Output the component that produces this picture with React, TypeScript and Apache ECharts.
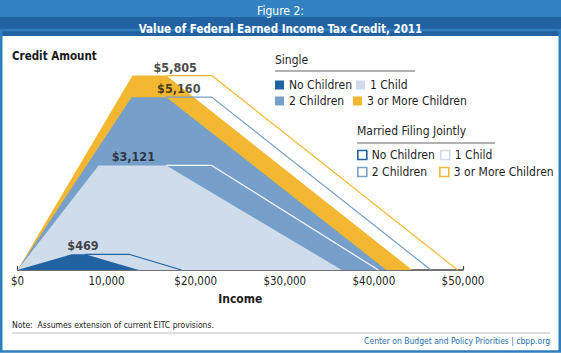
import React, { useEffect, useRef } from "react";
import * as echarts from "echarts";

const FONT = '"DejaVu Sans Condensed", "Liberation Sans Narrow", "Noto Sans", sans-serif';

// Income (x) / credit (y) breakpoints
const singleNoChildren = [[0, 0], [6100, 469], [7600, 469], [13600, 0]];
const singleOneChild = [[0, 0], [9100, 3121], [16700, 3121], [36400, 0]];
const singleTwoChildren = [[0, 0], [12800, 5160], [16700, 5160], [41400, 0]];
const singleThreePlus = [[0, 0], [12900, 5805], [16700, 5805], [44300, 0]];

const marriedNoChildren = [[7600, 469], [12500, 469], [18400, 0]];
const marriedOneChild = [[16700, 3121], [21800, 3121], [40500, 0]];
const marriedTwoChildren = [[16700, 5160], [21800, 5160], [46400, 0]];
const marriedThreePlus = [[16700, 5805], [21800, 5805], [49400, 0]];

const peakLabels = ["$469", "$3,121", "$5,160", "$5,805"];
const peakLabelPoints = [[7350, 469], [13000, 3121], [18100, 5160], [17700, 5805]];

const xTickLabels = ["$0", "10,000", "$20,000", "$30,000", "$40,000", "$50,000"];

const C_DARK = "#2062a2";
const C_MID = "#76a0c9";
const C_LIGHT = "#cfdcec";
const C_YELLOW = "#f4b731";

export default function App() {
  const ref = useRef<HTMLDivElement>(null);
  useEffect(() => {
    if (!ref.current) return;
    const chart = echarts.init(ref.current, undefined, { renderer: "svg" });

    const area = (name: string, data: number[][], color: string) => ({
      name,
      type: "line",
      data,
      symbol: "none",
      color,
      lineStyle: { width: 0, color },
      areaStyle: { color, opacity: 1 },
      silent: true,
    });
    const line = (name: string, data: number[][], color: string) => ({
      name,
      type: "line",
      data,
      symbol: "none",
      color,
      lineStyle: { width: 1.2, color },
      silent: true,
      z: 3,
    });

    const legendItem = (name: string, left: number, top: number, hollow: boolean, color: string) => ({
      left,
      top,
      padding: 0,
      itemWidth: 9,
      itemHeight: 9,
      selectedMode: false,
      formatter: (n: string) => n.split(": ")[1],
      textStyle: { fontFamily: FONT, fontSize: 12, color: "#1e1e1e", lineHeight: 14 },
      data: [
        hollow
          ? { name, icon: "rect", itemStyle: { color: "#fff", borderColor: color, borderWidth: 1.6 } }
          : { name, icon: "rect", itemStyle: { color } },
      ],
    });

    const option: any = {
      animation: false,
      title: [
        {
          text: "Figure 2:",
          left: "center",
          top: 0,
          textStyle: { color: "#fff", fontFamily: FONT, fontWeight: "normal", fontSize: 12 },
        },
        {
          text: "Value of Federal Earned Income Tax Credit, 2011",
          left: "center",
          top: 18,
          textStyle: { color: "#fff", fontFamily: FONT, fontWeight: "bold", fontSize: 11.5 },
        },
      ],
      grid: { left: 17.5, right: 98, top: 69, bottom: 83 },
      xAxis: {
        type: "value",
        min: 0,
        max: 50000,
        interval: 10000,
        name: "Income",
        nameLocation: "middle",
        nameGap: 23,
        nameTextStyle: { fontFamily: FONT, fontWeight: "bold", fontSize: 12, color: "#1e1e1e" },
        axisLine: { show: true, lineStyle: { color: "#444", width: 1.5 } },
        axisTick: { show: true, inside: true, length: 4, lineStyle: { color: "#444", width: 1.2 } },
        axisLabel: {
          fontFamily: FONT,
          fontSize: 11.5,
          color: "#1e1e1e",
          margin: 5,
          formatter: (v: number) => xTickLabels[Math.round(v / 10000)],
        },
        splitLine: { show: false },
      },
      yAxis: {
        type: "value",
        min: 0,
        max: 6000,
        show: false,
        splitLine: { show: false },
      },
      legend: [
        legendItem("Single: No Children", 275, 78, false, C_DARK),
        legendItem("Single: 1 Child", 356, 78, false, C_LIGHT),
        legendItem("Single: 2 Children", 275, 94, false, C_MID),
        legendItem("Single: 3 or More Children", 353, 94, false, C_YELLOW),
        legendItem("Married: No Children", 357, 148, true, C_DARK),
        legendItem("Married: 1 Child", 440, 148, true, C_LIGHT),
        legendItem("Married: 2 Children", 357, 165, true, C_MID),
        legendItem("Married: 3 or More Children", 439, 165, true, C_YELLOW),
      ],
      series: [
        area("Single: 3 or More Children", singleThreePlus, C_YELLOW),
        area("Single: 2 Children", singleTwoChildren, C_MID),
        area("Single: 1 Child", singleOneChild, C_LIGHT),
        area("Single: No Children", singleNoChildren, C_DARK),
        line("Married: 3 or More Children", marriedThreePlus, C_YELLOW),
        line("Married: 2 Children", marriedTwoChildren, C_MID),
        { ...line("Married: 1 Child", marriedOneChild, "#f4f7fb"), color: C_LIGHT },
        line("Married: No Children", marriedNoChildren, C_DARK),
        {
          name: "peaks",
          type: "scatter",
          symbolSize: 0,
          silent: true,
          z: 5,
          data: peakLabelPoints.map((p, i) => ({ value: p, label: { formatter: peakLabels[i] } })),
          label: {
            show: true,
            position: "top",
            distance: 2,
            fontFamily: FONT,
            fontWeight: "bold",
            fontSize: 12.5,
            color: "#1a1a1a",
          },
        },
      ],
      graphic: [
        { type: "rect", z: -10, shape: { x: 0, y: 0, width: 561, height: 17 }, style: { fill: "#3282c1" } },
        { type: "rect", z: -10, shape: { x: 0, y: 17, width: 561, height: 19 }, style: { fill: "#2362a2" } },
        {
          type: "rect",
          z: -10,
          shape: { x: 1.25, y: 30, width: 558.5, height: 321.5 },
          style: { fill: "none", stroke: "#2f7fbf", lineWidth: 2.5 },
        },
        {
          type: "text",
          left: 12,
          top: 50,
          style: { text: "Credit Amount", fontFamily: FONT, fontWeight: "bold", fontSize: 11.5, fill: "#1a1a1a" },
        },
        {
          type: "text",
          left: 275,
          top: 54,
          style: { text: "Single", fontFamily: FONT, fontSize: 12, fill: "#1e1e1e" },
        },
        {
          type: "line",
          shape: { x1: 275, y1: 71, x2: 415, y2: 71 },
          style: { stroke: "#666", lineWidth: 1 },
        },
        {
          type: "text",
          left: 357,
          top: 125,
          style: { text: "Married Filing Jointly", fontFamily: FONT, fontSize: 12, fill: "#1e1e1e" },
        },
        {
          type: "line",
          shape: { x1: 357, y1: 143, x2: 495, y2: 143 },
          style: { stroke: "#666", lineWidth: 1 },
        },
        {
          type: "text",
          left: 12,
          top: 320,
          style: { text: "Note:  Assumes extension of current EITC provisions.", fontFamily: FONT, fontSize: 8.5, fill: "#222" },
        },
        {
          type: "line",
          shape: { x1: 12, y1: 333, x2: 550, y2: 333 },
          style: { stroke: "#bbb", lineWidth: 1 },
        },
        {
          type: "text",
          right: 11,
          top: 336,
          style: { text: "Center on Budget and Policy Priorities | cbpp.org", fontFamily: FONT, fontSize: 8.5, fill: "#2a6db0" },
        },
      ],
    };
    chart.setOption(option);
    return () => chart.dispose();
  }, []);
  return (
    <div
      ref={ref}
      style={{ position: "fixed", left: 0, top: 0, width: 561, height: 353, background: "#fff" }}
    />
  );
}
